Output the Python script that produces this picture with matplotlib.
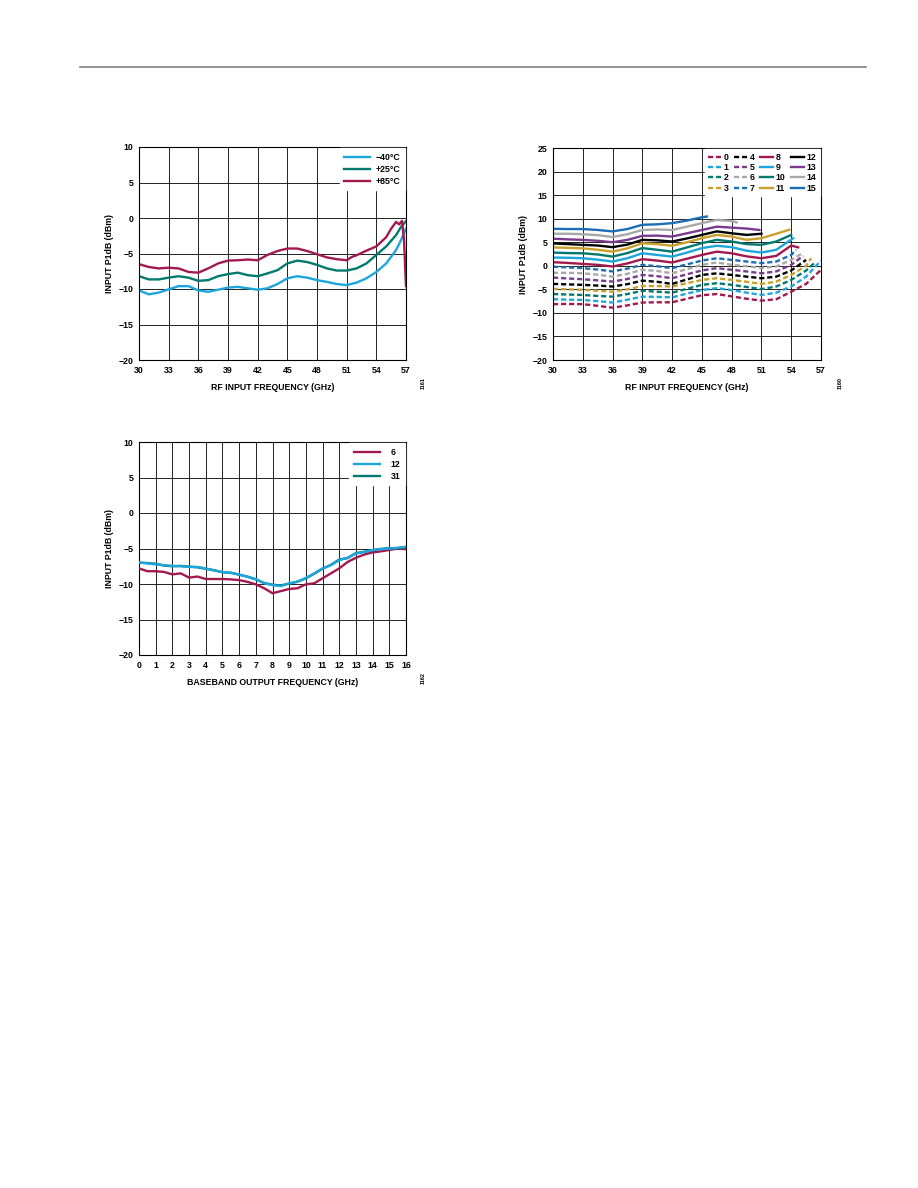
import matplotlib
matplotlib.use("Agg")
import matplotlib.pyplot as plt
from matplotlib.lines import Line2D

plt.rcParams['font.family'] = ['Liberation Sans', 'DejaVu Sans']
plt.rcParams['font.weight'] = 'bold'

# ---------------- data: chart 1 (temperature) ----------------
X1 = [30, 31, 32, 33, 34, 35, 36, 37, 38, 39, 40, 41, 42, 43, 44, 45, 46, 47, 48, 49,
      50, 51, 52, 53, 54, 55, 56, 56.5, 57]
TEMP_M40 = [-10.2, -10.75, -10.5, -10.05, -9.6, -9.6, -10.2, -10.4, -10.1, -9.8, -9.7, -9.9,
            -10.1, -9.9, -9.3, -8.5, -8.2, -8.4, -8.75, -9.0, -9.3, -9.45, -9.1, -8.5, -7.6,
            -6.4, -4.5, -3.1, -1.5]
TEMP_P25 = [-8.2, -8.65, -8.65, -8.4, -8.2, -8.4, -8.85, -8.75, -8.2, -7.9, -7.7, -8.05,
            -8.2, -7.8, -7.35, -6.4, -6.0, -6.2, -6.6, -7.1, -7.4, -7.4, -7.1, -6.4, -5.2,
            -4.0, -2.4, -1.25, -0.45]
X85 = [30, 31, 32, 33, 34, 35, 36, 37, 38, 39, 40, 41, 42, 43, 44, 45, 46, 47, 48, 49, 50,
       51, 51.5, 52, 53, 54, 55, 55.5, 56, 56.3, 56.6, 56.8, 57]
TEMP_P85 = [-6.5, -6.9, -7.1, -7.0, -7.1, -7.6, -7.7, -7.1, -6.4, -6.0, -5.95, -5.85, -5.95,
            -5.2, -4.65, -4.3, -4.3, -4.65, -5.1, -5.55, -5.8, -5.95, -5.5, -5.25, -4.6,
            -4.0, -2.7, -1.5, -0.55, -0.9, -0.4, -3.1, -9.6]
TEMP_LABELS = ['\u221240\u00b0C', '+25\u00b0C', '+85\u00b0C']

# ---------------- data: chart 2 (gain states) ----------------
GRID2 = [30, 31.5, 33, 34.5, 36, 37.5, 39, 40.5, 42, 43.5, 45, 46.5, 48, 49.5, 51, 52.5,
         54, 55.5, 57]
END2 = [57, 57, 56.5, 56, 55.5, 55.2, 55, 54.5, 54.7, 54.2, 54, 53.8, 51, 50.8, 48.5, 45.5]
ST0 = [-8.15, -8.1, -8.15, -8.5, -8.9, -8.4, -7.8, -7.75, -7.75, -7.0, -6.25, -6.0, -6.5,
       -7.0, -7.4, -7.1, -5.5, -3.85, -0.85]
ST1 = [-7.1, -7.2, -7.25, -7.5, -7.8, -7.2, -6.55, -6.6, -6.7, -5.9, -5.15, -4.75, -5.15,
       -5.7, -6.2, -5.7, -4.4, -2.3, 1.1]
ST2 = [-6.0, -6.1, -6.2, -6.4, -6.55, -6.0, -5.3, -5.5, -5.7, -4.9, -4.05, -3.7, -4.05,
       -4.5, -4.95, -4.4, -3.0, -1.0, 0.9]
ST3 = [-4.9, -5.0, -5.1, -5.3, -5.5, -5.0, -4.3, -4.3, -4.4, -3.7, -3.0, -2.65, -3.0,
       -3.4, -3.85, -3.35, -1.95, 0.0, 1.6]
ST4 = [-3.85, -3.95, -4.05, -4.2, -4.4, -3.9, -3.15, -3.4, -3.85, -2.9, -1.95, -1.6, -1.95,
       -2.3, -2.65, -2.3, -1.0, 1.25]
ST5 = [-2.5, -2.7, -2.85, -3.1, -3.35, -2.8, -1.95, -2.2, -2.65, -1.8, -1.0, -0.5, -0.85,
       -1.2, -1.6, -1.2, 0.2, 2.1]
ST6 = [-1.5, -1.5, -1.6, -1.9, -2.3, -1.7, -0.85, -1.1, -1.6, -0.7, 0.2, 0.7, 0.2, -0.1,
       -0.45, -0.15, 1.25, 2.5]
ST7 = [-0.2, -0.35, -0.5, -0.8, -1.2, -0.6, 0.2, -0.1, -0.5, 0.3, 1.1, 1.6, 1.25, 0.9,
       0.55, 0.9, 2.3, 3.4]
ST8 = [0.77, 0.6, 0.4, 0.2, -0.15, 0.5, 1.4, 1.1, 0.7, 1.5, 2.3, 3.0, 2.65, 2.0, 1.6, 2.1,
       4.3, 3.9]
ST9 = [1.75, 1.7, 1.6, 1.3, 0.9, 1.6, 2.65, 2.3, 1.95, 2.8, 3.75, 4.25, 3.95, 3.2, 2.8,
       3.4, 5.85]
ST10 = [2.8, 2.7, 2.65, 2.4, 1.95, 2.7, 3.75, 3.4, 3.0, 3.9, 4.8, 5.5, 5.15, 4.6, 4.45,
        5.15, 6.55]
ST11 = [3.9, 3.8, 3.7, 3.4, 3.0, 3.7, 4.8, 4.6, 4.25, 5.0, 5.85, 6.55, 6.2, 5.5, 5.85,
        6.8, 7.65]
ST12 = [4.75, 4.6, 4.45, 4.3, 3.95, 4.5, 5.5, 5.4, 5.15, 5.8, 6.55, 7.3, 6.9, 6.55, 6.8]
ST13 = [5.75, 5.6, 5.5, 5.3, 5.0, 5.5, 6.35, 6.4, 6.2, 6.9, 7.6, 8.3, 8.1, 7.9, 7.6]
ST14 = [6.8, 6.8, 6.7, 6.5, 6.1, 6.7, 7.6, 7.7, 7.6, 8.3, 9.05, 9.75, 9.5, 9.2]
ST15 = [7.85, 7.8, 7.8, 7.6, 7.3, 7.8, 8.7, 8.8, 9.05, 9.6, 10.3, 10.45]
STATES = [ST0, ST1, ST2, ST3, ST4, ST5, ST6, ST7, ST8, ST9, ST10, ST11, ST12, ST13, ST14, ST15]
STATE_LABELS = [str(i) for i in range(16)]

# ---------------- data: chart 3 (baseband) ----------------
X3 = [0, 0.5, 1, 1.5, 2, 2.5, 3, 3.5, 4, 4.5, 5, 5.5, 6, 6.5, 7, 7.5, 8, 8.5, 9, 9.5, 10,
      10.5, 11, 11.5, 12, 12.5, 13, 13.5, 14, 14.5, 15, 15.5, 16]
BB_6 = [-7.8, -8.2, -8.2, -8.3, -8.65, -8.5, -9.1, -8.95, -9.3, -9.3, -9.3, -9.35, -9.45,
        -9.7, -10.05, -10.6, -11.3, -11.0, -10.7, -10.6, -10.05, -9.9, -9.2, -8.5, -7.8,
        -6.9, -6.3, -5.85, -5.55, -5.4, -5.2, -5.0, -5.1]
BB_12 = [-6.95, -7.1, -7.25, -7.35, -7.45, -7.5, -7.6, -7.6, -7.8, -8.1, -8.3, -8.45, -8.65,
         -9.0, -9.3, -9.9, -10.15, -10.3, -9.9, -9.7, -9.15, -8.5, -7.8, -7.35, -6.65,
         -6.3, -5.7, -5.5, -5.2, -5.1, -5.0, -4.9, -4.75]
BB_31 = [-7.0, -7.05, -7.15, -7.4, -7.5, -7.45, -7.55, -7.65, -7.85, -8.05, -8.35, -8.4,
         -8.7, -8.95, -9.35, -9.85, -10.1, -10.2, -9.95, -9.65, -9.2, -8.55, -7.85, -7.3,
         -6.55, -6.35, -5.65, -5.45, -5.25, -5.05, -4.95, -4.95, -4.8]
BB_LABELS = ['6', '12', '31']

# ---------------- style ----------------
CRIMSON = '#A3194F'
LBLUE = '#1DA5DE'
TEAL = '#00796F'
GOLD = '#C9A02A'
BLACK = '#000000'
PURPLE = '#7A3A8E'
GRAY = '#A8A8A8'
BLUE = '#1B6DB4'
STATE_COLORS = [CRIMSON, LBLUE, TEAL, GOLD, BLACK, PURPLE, GRAY, BLUE] * 2
FS = 6.3
LW = 1.7

W, H = 918, 1188
fig = plt.figure(figsize=(W / 100, H / 100), dpi=100)


def frac(l, t, r, b):
    return [l / W, 1 - b / H, (r - l) / W, (b - t) / H]


def style_axes(ax, xticks, yticks, xlabel):
    ax.set_xticks(xticks)
    ax.set_yticks(yticks)
    ax.set_xlim(xticks[0], xticks[-1])
    ax.set_ylim(yticks[0], yticks[-1])
    ax.grid(True, color='black', linewidth=0.6)
    ax.set_axisbelow(True)
    ax.tick_params(length=0, pad=4, labelsize=FS)
    ax.set_yticklabels([str(v).replace('-', '\u2212') for v in yticks])
    for s in ax.spines.values():
        s.set_linewidth(0.8)
    ax.set_xlabel(xlabel, fontsize=FS, fontweight='bold', labelpad=6)
    ax.set_ylabel('INPUT P1dB (dBm)', fontsize=FS, fontweight='bold', labelpad=3)


# header rule
fig.add_artist(Line2D([80 / W, 866 / W], [1 - 67 / H, 1 - 67 / H], color='#808080',
                      linewidth=1.2))

# ---------- chart 1 ----------
ax1 = fig.add_axes(frac(139, 147, 406, 360))
ax1.plot(X1, TEMP_M40, color=LBLUE, lw=LW, label=TEMP_LABELS[0])
ax1.plot(X1, TEMP_P25, color=TEAL, lw=LW, label=TEMP_LABELS[1])
ax1.plot(X85, TEMP_P85, color=CRIMSON, lw=LW, label=TEMP_LABELS[2])
style_axes(ax1, list(range(30, 58, 3)), list(range(-20, 11, 5)), 'RF INPUT FREQUENCY (GHz)')
leg = ax1.legend(loc='upper right', fontsize=FS, frameon=True, fancybox=False,
                 edgecolor='white', framealpha=1, handlelength=3.0, handletextpad=0.6,
                 borderaxespad=0.15, labelspacing=0.35, borderpad=0.5)
for t in leg.get_texts():
    t.set_fontweight('bold')

# ---------- chart 2 ----------
ax2 = fig.add_axes(frac(553, 148, 821, 360))
for i, ys in enumerate(STATES):
    n = len(ys)
    xs = GRID2[:n - 1] + [END2[i]]
    ls = (0, (2.2, 1.2)) if i < 8 else '-'
    ax2.plot(xs, ys, color=STATE_COLORS[i], lw=LW, linestyle=ls, label=STATE_LABELS[i])
style_axes(ax2, list(range(30, 58, 3)), list(range(-20, 26, 5)), 'RF INPUT FREQUENCY (GHz)')
leg2 = ax2.legend(loc='upper right', ncol=4, fontsize=FS, frameon=True, fancybox=False,
                  edgecolor='white', framealpha=1, handlelength=1.5, handletextpad=0.3,
                  columnspacing=0.6, borderaxespad=0.15, labelspacing=0.15, borderpad=0.4)
for t in leg2.get_texts():
    t.set_fontweight('bold')

# ---------- chart 3 ----------
ax3 = fig.add_axes(frac(139, 442, 406, 655))
ax3.plot(X3, BB_6, color=CRIMSON, lw=LW, label=BB_LABELS[0], zorder=3)
ax3.plot(X3, BB_12, color=LBLUE, lw=LW, label=BB_LABELS[1], zorder=4)
ax3.plot(X3, BB_31, color=TEAL, lw=LW, label=BB_LABELS[2], zorder=3)
style_axes(ax3, list(range(0, 17, 1)), list(range(-20, 11, 5)),
           'BASEBAND OUTPUT FREQUENCY (GHz)')
leg3 = ax3.legend(loc='upper right', fontsize=FS, frameon=True, fancybox=False,
                  edgecolor='white', framealpha=1, handlelength=3.0, handletextpad=1.2,
                  borderaxespad=0.15, labelspacing=0.35, borderpad=0.5)
for t in leg3.get_texts():
    t.set_fontweight('bold')

# figure numbers
for x, y, s in [(423, 383, '1161'), (840, 383, '1160'), (423, 678, '1162')]:
    fig.text(x / W, 1 - y / H, s, rotation=90, fontsize=4, ha='center', va='center')

fig.savefig('out.png', dpi=100)
